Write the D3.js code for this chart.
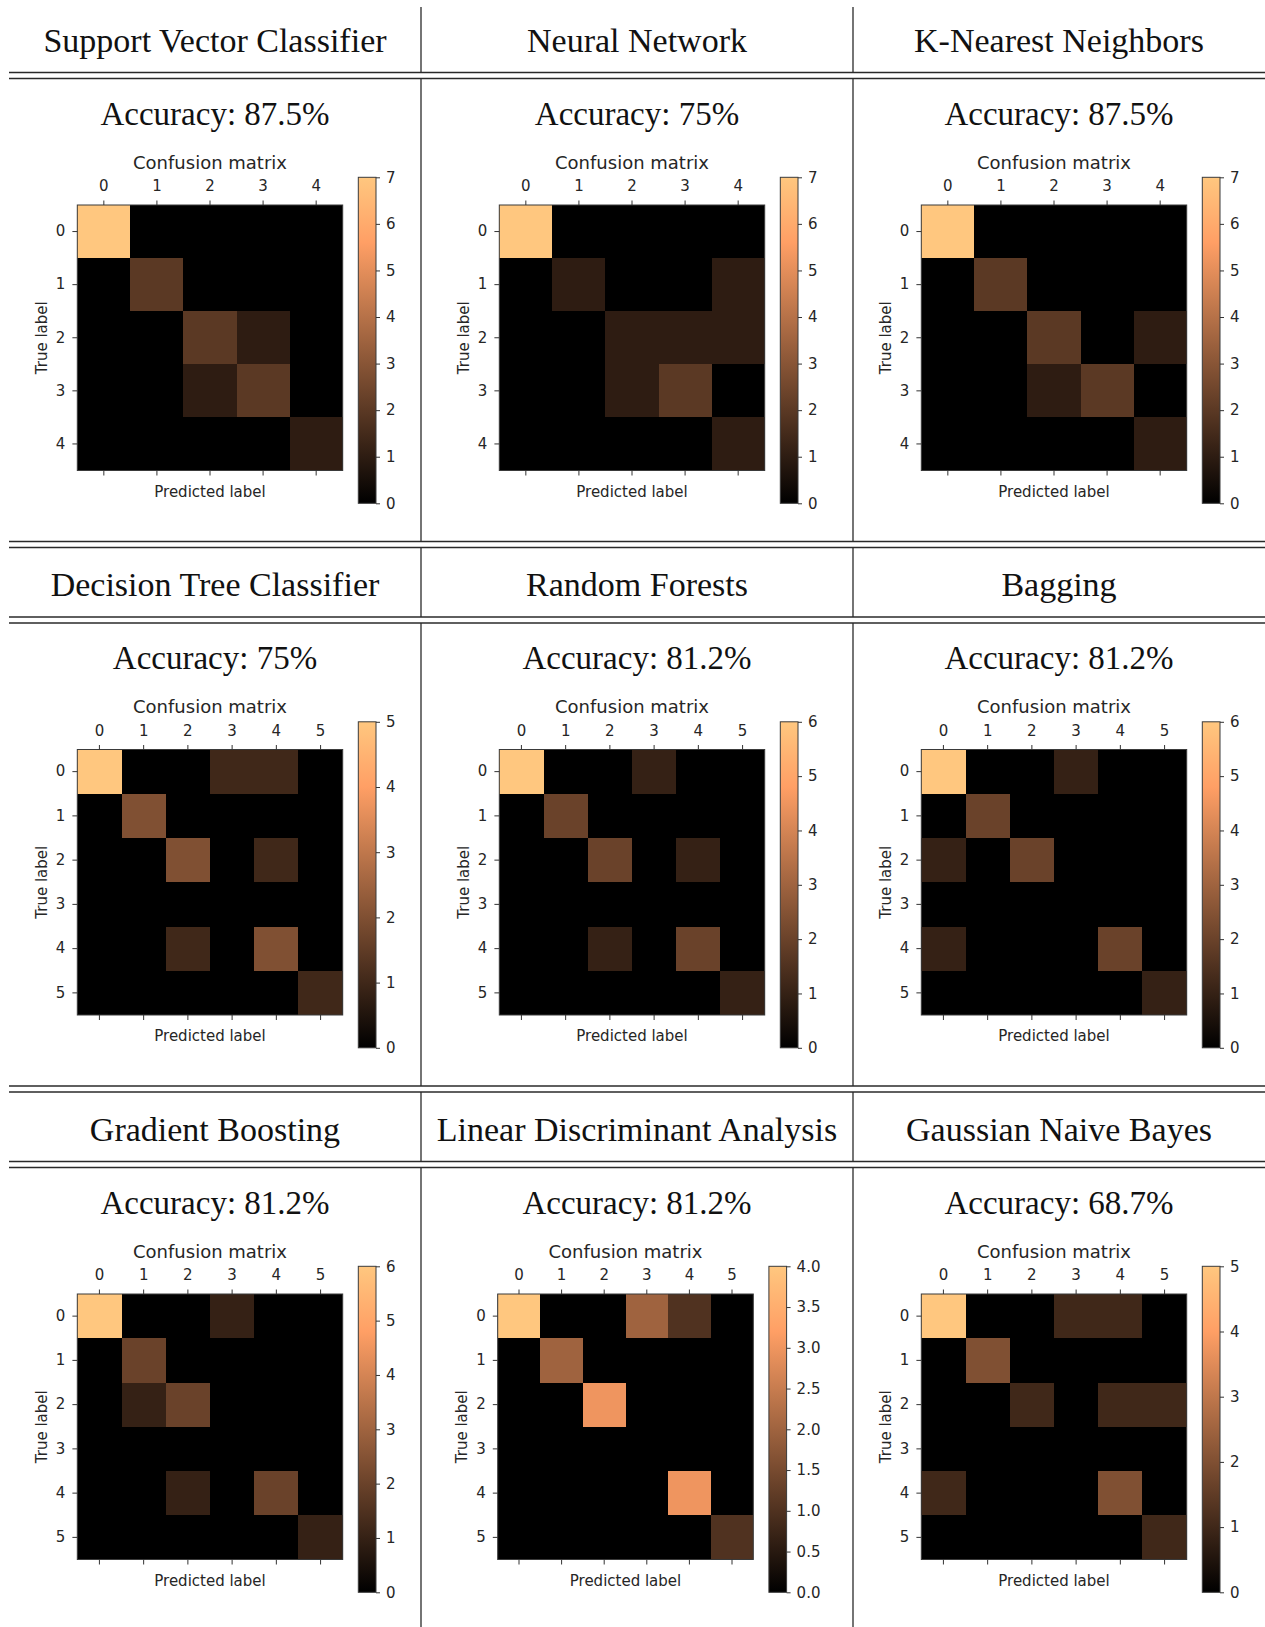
<!DOCTYPE html>
<html>
<head>
<meta charset="utf-8">
<script src="https://cdn.jsdelivr.net/npm/d3@7"></script>
<style>
  body { margin: 0; background: #fff; }
  svg { display: block; background: #fff; }
  .hdr { font-family: "Liberation Serif", "Times New Roman", serif; fill: #111; }
  .mpl { font-family: "DejaVu Sans", sans-serif; fill: #262626; }
</style>
</head>
<body>
<svg id="chart"></svg>
<script>
(() => {

  const modelNames = [
    'Support Vector Classifier', 'Neural Network', 'K-Nearest Neighbors',
    'Decision Tree Classifier', 'Random Forests', 'Bagging',
    'Gradient Boosting', 'Linear Discriminant Analysis', 'Gaussian Naive Bayes'
  ];
  const accuracyLabels = ['87.5%', '75%', '87.5%', '75%', '81.2%', '81.2%', '81.2%', '81.2%', '68.7%'];

  const svcMatrix = [
    [7, 0, 0, 0, 0],
    [0, 2, 0, 0, 0],
    [0, 0, 2, 1, 0],
    [0, 0, 1, 2, 0],
    [0, 0, 0, 0, 1]
  ];
  const nnMatrix = [
    [7, 0, 0, 0, 0],
    [0, 1, 0, 0, 1],
    [0, 0, 1, 1, 1],
    [0, 0, 1, 2, 0],
    [0, 0, 0, 0, 1]
  ];
  const knnMatrix = [
    [7, 0, 0, 0, 0],
    [0, 2, 0, 0, 0],
    [0, 0, 2, 0, 1],
    [0, 0, 1, 2, 0],
    [0, 0, 0, 0, 1]
  ];
  const dtMatrix = [
    [5, 0, 0, 1, 1, 0],
    [0, 2, 0, 0, 0, 0],
    [0, 0, 2, 0, 1, 0],
    [0, 0, 0, 0, 0, 0],
    [0, 0, 1, 0, 2, 0],
    [0, 0, 0, 0, 0, 1]
  ];
  const rfMatrix = [
    [6, 0, 0, 1, 0, 0],
    [0, 2, 0, 0, 0, 0],
    [0, 0, 2, 0, 1, 0],
    [0, 0, 0, 0, 0, 0],
    [0, 0, 1, 0, 2, 0],
    [0, 0, 0, 0, 0, 1]
  ];
  const bagMatrix = [
    [6, 0, 0, 1, 0, 0],
    [0, 2, 0, 0, 0, 0],
    [1, 0, 2, 0, 0, 0],
    [0, 0, 0, 0, 0, 0],
    [1, 0, 0, 0, 2, 0],
    [0, 0, 0, 0, 0, 1]
  ];
  const gbMatrix = [
    [6, 0, 0, 1, 0, 0],
    [0, 2, 0, 0, 0, 0],
    [0, 1, 2, 0, 0, 0],
    [0, 0, 0, 0, 0, 0],
    [0, 0, 1, 0, 2, 0],
    [0, 0, 0, 0, 0, 1]
  ];
  const ldaMatrix = [
    [4, 0, 0, 2, 1, 0],
    [0, 2, 0, 0, 0, 0],
    [0, 0, 3, 0, 0, 0],
    [0, 0, 0, 0, 0, 0],
    [0, 0, 0, 0, 3, 0],
    [0, 0, 0, 0, 0, 1]
  ];
  const gnbMatrix = [
    [5, 0, 0, 1, 1, 0],
    [0, 2, 0, 0, 0, 0],
    [0, 0, 1, 0, 1, 1],
    [0, 0, 0, 0, 0, 0],
    [1, 0, 0, 0, 2, 0],
    [0, 0, 0, 0, 0, 1]
  ];

  const ticksTo7 = [0, 1, 2, 3, 4, 5, 6, 7];
  const ticksTo6 = [0, 1, 2, 3, 4, 5, 6];
  const ticksTo5 = [0, 1, 2, 3, 4, 5];
  const ticksLda = [0, 0.5, 1, 1.5, 2, 2.5, 3, 3.5, 4];

  const matrices = [svcMatrix, nnMatrix, knnMatrix, dtMatrix, rfMatrix, bagMatrix, gbMatrix, ldaMatrix, gnbMatrix];
  const colorbarTicks = [ticksTo7, ticksTo7, ticksTo7, ticksTo5, ticksTo6, ticksTo6, ticksTo6, ticksLda, ticksTo5];

  document.addEventListener('DOMContentLoaded', () => {
    drawTable();
  });

  // matplotlib "copper"
  const copper = d3.scaleLinear()
    .domain([0, 0.8, 1])
    .range(['rgb(0,0,0)', 'rgb(255,159,101)', 'rgb(255,199,127)']);

  function drawTable(){
    const svgWidth = 1265;
    const svgHeight = 1627;
    const colEdges = [9, 421, 853, 1265];
    const rowTop = [78.5, 623, 1167.5];   // lower rule of each header
    const rowBody = 463;
    const lineColor = '#2a2a2a';

    const svg = d3.select('#chart')
      .attr('width', svgWidth)
      .attr('height', svgHeight);

    const defs = svg.append('defs');

    // horizontal double rules
    const rules = [];
    rowTop.forEach((t, r) => {
      rules.push(t - 6, t);
      if (r < 2) rules.push(t + rowBody, t + rowBody + 6);
    });
    svg.selectAll('line.hrule')
      .data(rules)
      .enter()
      .append('line')
      .attr('class', 'hrule')
      .attr('x1', colEdges[0]).attr('x2', svgWidth)
      .attr('y1', d => d).attr('y2', d => d)
      .attr('stroke', lineColor)
      .attr('stroke-width', 1.3);

    // vertical rules, broken between the double rules
    const segs = [[7, rowTop[0] - 6]];
    rowTop.forEach((t, r) => {
      const end = r < 2 ? t + rowBody : svgHeight;
      segs.push([t, end]);
      if (r < 2) segs.push([t + rowBody + 6, rowTop[r + 1] - 6]);
    });
    [colEdges[1], colEdges[2]].forEach(xv => {
      svg.append('g').selectAll('line')
        .data(segs)
        .enter()
        .append('line')
        .attr('x1', xv).attr('x2', xv)
        .attr('y1', d => d[0]).attr('y2', d => d[1])
        .attr('stroke', lineColor)
        .attr('stroke-width', 1.3);
    });

    modelNames.forEach((name, i) => {
      const row = Math.floor(i / 3);
      const col = i % 3;
      const cx = (colEdges[col] + colEdges[col + 1]) / 2;
      const top = rowTop[row];

      svg.append('text')
        .attr('class', 'hdr')
        .attr('x', cx)
        .attr('y', top - 27)
        .attr('text-anchor', 'middle')
        .style('font-size', '34px')
        .text(name);

      const g = svg.append('g').attr('transform', `translate(${cx},${top})`);

      g.append('text')
        .attr('class', 'hdr')
        .attr('x', 0)
        .attr('y', 46)
        .attr('text-anchor', 'middle')
        .style('font-size', '33px')
        .text(`Accuracy: ${accuracyLabels[i]}`);

      drawPanel(g, defs, i, matrices[i], colorbarTicks[i], i === 7);
    });
  }

  function drawPanel(g, defs, idx, matrix, ticks, wideTicks){
    const n = matrix.length;
    const vmax = d3.max(ticks);
    const x0 = wideTicks ? -139.3 : -137.7;
    const x1 = wideTicks ? 116.3 : 127.7;
    const y0 = 126.5;
    const y1 = 392;
    const tickColor = '#333';
    const labelSize = '15px';

    const xScale = d3.scaleBand().domain(d3.range(n)).range([x0, x1]);
    const yScale = d3.scaleBand().domain(d3.range(n)).range([y0, y1]);
    const cScale = d3.scaleLinear().domain([0, vmax]).range([0, 1]);

    const cells = [];
    matrix.forEach((r, ri) => r.forEach((v, ci) => cells.push({ r: ri, c: ci, v })));

    g.append('rect')
      .attr('x', x0).attr('y', y0)
      .attr('width', x1 - x0).attr('height', y1 - y0)
      .attr('fill', copper(0));

    g.append('g').selectAll('rect')
      .data(cells.filter(d => d.v > 0))
      .enter()
      .append('rect')
      .attr('x', d => xScale(d.c))
      .attr('y', d => yScale(d.r))
      .attr('width', xScale.bandwidth())
      .attr('height', yScale.bandwidth())
      .attr('shape-rendering', 'crispEdges')
      .attr('fill', d => copper(cScale(d.v)));

    g.append('rect')
      .attr('x', x0).attr('y', y0)
      .attr('width', x1 - x0).attr('height', y1 - y0)
      .attr('fill', 'none')
      .attr('stroke', '#3a3a3a')
      .attr('stroke-width', 1);

    const styleAxis = (sel) => {
      sel.select('.domain').remove();
      sel.selectAll('.tick line').attr('stroke', tickColor).attr('stroke-width', 1);
      sel.selectAll('.tick text')
        .attr('class', 'mpl')
        .attr('fill', '#262626')
        .style('font-size', labelSize)
        .style('font-family', '"DejaVu Sans", sans-serif');
    };

    g.append('g')
      .attr('transform', `translate(0,${y0})`)
      .call(d3.axisTop(xScale).tickSize(4.5).tickPadding(9.5))
      .call(styleAxis);

    g.append('g')
      .attr('transform', `translate(0,${y1})`)
      .call(d3.axisBottom(xScale).tickSize(5).tickFormat(''))
      .call(styleAxis);

    g.append('g')
      .attr('transform', `translate(${x0},0)`)
      .call(d3.axisLeft(yScale).tickSize(4.9).tickPadding(7))
      .call(styleAxis);

    const midX = (x0 + x1) / 2;
    g.append('text')
      .attr('class', 'mpl')
      .attr('x', midX).attr('y', 90)
      .attr('text-anchor', 'middle')
      .style('font-size', '18px')
      .text('Confusion matrix');

    g.append('text')
      .attr('class', 'mpl')
      .attr('x', midX).attr('y', 418)
      .attr('text-anchor', 'middle')
      .style('font-size', labelSize)
      .text('Predicted label');

    g.append('text')
      .attr('class', 'mpl')
      .attr('transform', `translate(${x0 - 36},${(y0 + y1) / 2}) rotate(-90)`)
      .attr('text-anchor', 'middle')
      .attr('dy', '0.35em')
      .style('font-size', labelSize)
      .text('True label');

    // colorbar
    const cbX = wideTicks ? 131.9 : 143.3;
    const cbW = 17.7;
    const cbTop = 98.8;
    const cbBottom = 424.8;
    const gradId = `copper-${idx}`;
    const grad = defs.append('linearGradient')
      .attr('id', gradId)
      .attr('x1', 0).attr('y1', 1).attr('x2', 0).attr('y2', 0);
    grad.selectAll('stop')
      .data(copper.domain())
      .enter()
      .append('stop')
      .attr('offset', d => d)
      .attr('stop-color', d => copper(d));

    g.append('rect')
      .attr('x', cbX).attr('y', cbTop)
      .attr('width', cbW).attr('height', cbBottom - cbTop)
      .attr('fill', `url(#${gradId})`)
      .attr('stroke', '#3a3a3a')
      .attr('stroke-width', 1);

    const cbScale = d3.scaleLinear().domain([0, vmax]).range([cbBottom, cbTop]);
    const fmt = wideTicks ? d3.format('.1f') : d3.format('d');
    g.append('g')
      .attr('transform', `translate(${cbX + cbW},0)`)
      .call(d3.axisRight(cbScale).tickValues(ticks).tickFormat(fmt).tickSize(4).tickPadding(6))
      .call(styleAxis);
  }

})();
</script>
</body>
</html>
